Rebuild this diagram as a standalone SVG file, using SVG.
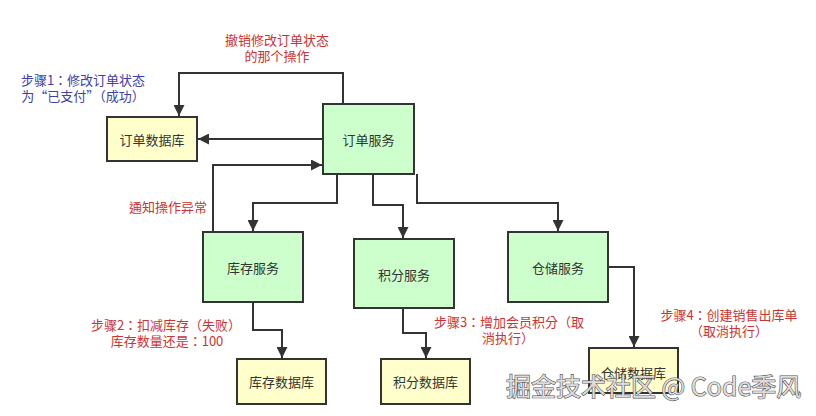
<svg xmlns="http://www.w3.org/2000/svg" width="816" height="416" viewBox="0 0 816 416">
<style>
.svc{fill:#ccffcc;stroke:#333;stroke-width:2}
.db{fill:#ffffcc;stroke:#333;stroke-width:2}
.lbl{font-family:"Noto Sans CJK SC","Liberation Sans",sans-serif;font-size:13px;fill:#333;text-anchor:middle;dominant-baseline:central}
.red{font-family:"Noto Sans CJK TC","Noto Sans CJK SC","Liberation Sans",sans-serif;font-size:13px;fill:#cc3333;text-anchor:middle}
.blue{font-family:"Noto Sans CJK TC","Noto Sans CJK SC","Liberation Sans",sans-serif;font-size:13px;fill:#4040a8;text-anchor:middle}
.edge{fill:none;stroke:#333;stroke-width:2}
.wm{font-family:"Noto Sans CJK SC","Liberation Sans",sans-serif;font-size:25px;fill:#dcdcdc;stroke:#555;stroke-width:1.2;paint-order:stroke}
</style>
<defs>
<marker id="ah" viewBox="0 0 10 10" refX="10" refY="5" markerWidth="5.5" markerHeight="5.5" orient="auto" markerUnits="strokeWidth">
<path d="M0,0 L10,5 L0,10 z" fill="#333"/>
</marker>
</defs>
<rect width="816" height="416" fill="#fff"/>
<g id="connectors">
<path class="edge" marker-end="url(#ah)" d="M343,104 V73 H179 V116"/>
<path class="edge" marker-end="url(#ah)" d="M323,139 H198"/>
<path class="edge" marker-end="url(#ah)" d="M213,232 V165 H322"/>
<path class="edge" marker-end="url(#ah)" d="M337,174 V203 H253 V231"/>
<path class="edge" marker-end="url(#ah)" d="M373,174 V205 H403 V238"/>
<path class="edge" marker-end="url(#ah)" d="M417,174 V203 H558 V231"/>
<path class="edge" marker-end="url(#ah)" d="M608,267 H634 V347"/>
<path class="edge" marker-end="url(#ah)" d="M253,302 V330 H282 V358"/>
<path class="edge" marker-end="url(#ah)" d="M403,308 V333 H426 V358"/>
</g>
<g id="order-db"><rect class="db" x="107" y="117" width="90" height="44"/><text class="lbl" x="152" y="139">订单数据库</text></g>
<g id="order-svc"><rect class="svc" x="323" y="104" width="91" height="70"/><text class="lbl" x="368.5" y="139">订单服务</text></g>
<g id="inv-svc"><rect class="svc" x="203" y="232" width="100" height="70"/><text class="lbl" x="253" y="267">库存服务</text></g>
<g id="pts-svc"><rect class="svc" x="354" y="239" width="100" height="69"/><text class="lbl" x="404" y="274">积分服务</text></g>
<g id="wh-svc"><rect class="svc" x="508" y="232" width="100" height="70"/><text class="lbl" x="558" y="267">仓储服务</text></g>
<g id="inv-db"><rect class="db" x="237" y="359" width="89" height="45"/><text class="lbl" x="281.5" y="381.5">库存数据库</text></g>
<g id="pts-db"><rect class="db" x="381" y="359" width="89" height="45"/><text class="lbl" x="425.5" y="381.5">积分数据库</text></g>
<g id="wh-db"><rect class="db" x="589" y="348" width="89" height="45"/><text class="lbl" x="633.5" y="372">仓储数据库</text></g>
<g id="labels">
<text class="red"><tspan x="277" y="45">撤销修改订单状态</tspan><tspan x="277" y="61">的那个操作</tspan></text>
<text class="blue"><tspan x="83" y="85">步骤1：修改订单状态</tspan><tspan x="83" y="101">为“已支付”（成功）</tspan></text>
<text class="red" x="168" y="212">通知操作异常</text>
<text class="red"><tspan x="166" y="330">步骤2：扣减库存（失败）</tspan><tspan x="167" y="346">库存数量还是：100</tspan></text>
<text class="red"><tspan x="509" y="327">步骤3：增加会员积分（取</tspan><tspan x="508" y="343">消执行）</tspan></text>
<text class="red"><tspan x="729" y="320">步骤4：创建销售出库单</tspan><tspan x="729" y="336">（取消执行）</tspan></text>
</g>
<text class="wm" x="506" y="396">掘金技术社区 @ Code季风</text>
</svg>
